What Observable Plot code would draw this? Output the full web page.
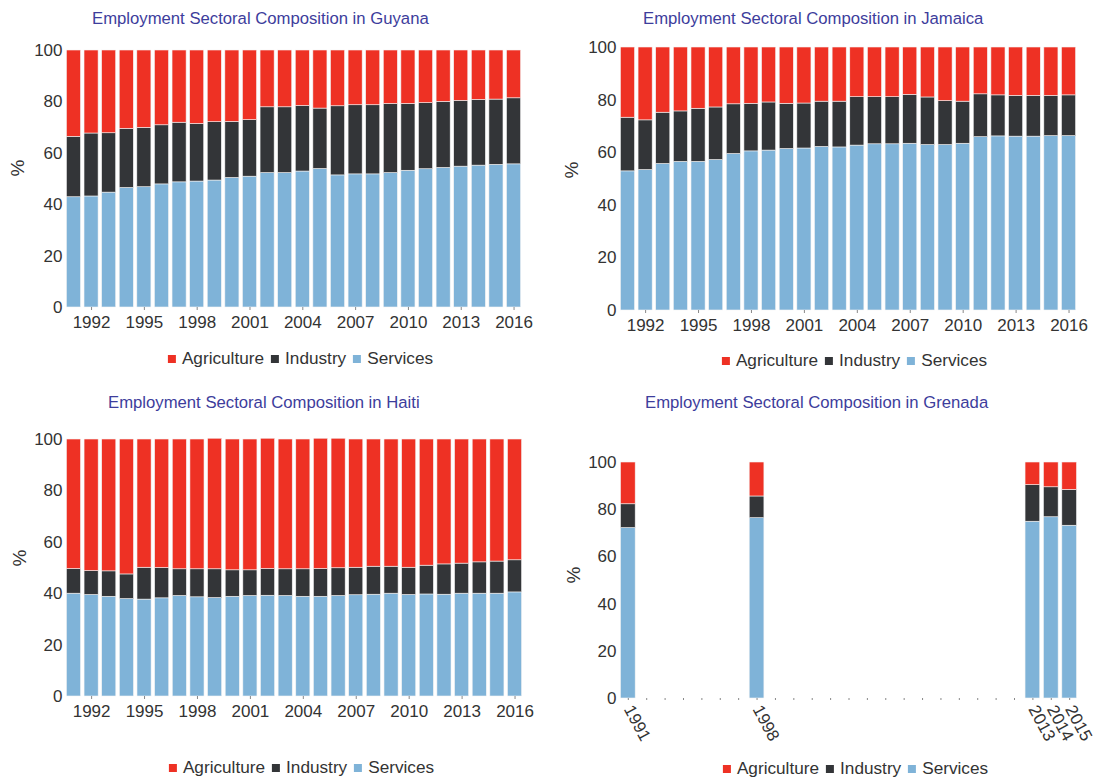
<!DOCTYPE html>
<html>
<head>
<meta charset="utf-8">
<script src="https://cdn.jsdelivr.net/npm/d3@7"></script>
<script src="https://cdn.jsdelivr.net/npm/@observablehq/plot@0.6"></script>
<style>
  html, body { margin: 0; padding: 0; background: #fff; }
  body { width: 1098px; height: 780px; position: relative; overflow: hidden; font-family: "Liberation Sans", Arial, sans-serif; }
  .panel { position: absolute; }
  .title { position: absolute; font-size: 16.7px; color: #3d3d9c; white-space: nowrap; }
  .ylab { position: absolute; font-size: 19px; color: #333; transform: translate(-50%, -50%) rotate(-90deg); }
  .legend { position: absolute; transform: translateX(-50%); display: flex; align-items: center; font-size: 17.2px; color: #333; white-space: nowrap; }
  .legend .sw { display: inline-block; width: 8px; height: 8px; margin-right: 6px; margin-left: 7px; }
  svg { overflow: visible; }
</style>
</head>
<body>
<script>
// ---------- Data ----------
const sectors = ["Agriculture", "Industry", "Services"];
const sectorColors = ["#ee3124", "#333538", "#7fb3d8"];

const years = [1991,1992,1993,1994,1995,1996,1997,1998,1999,2000,2001,2002,2003,2004,2005,2006,2007,2008,2009,2010,2011,2012,2013,2014,2015,2016];
const yearTicks = [1992,1995,1998,2001,2004,2007,2010,2013,2016];

const guyanaServices    = [42.9,43.2,44.7,46.5,46.8,47.9,48.7,49.0,49.4,50.4,50.9,52.3,52.3,52.9,53.9,51.4,51.8,51.8,52.3,53.2,53.8,54.3,54.8,55.2,55.5,55.7];
const guyanaIndustry    = [23.5,24.5,23.1,23.0,23.1,23.0,23.2,22.4,22.7,21.8,22.0,25.6,25.6,25.5,23.5,26.9,26.9,26.9,26.9,26.0,25.7,25.7,25.6,25.6,25.4,25.7];
const guyanaAgriculture = [33.6,32.3,32.2,30.5,30.1,29.1,28.1,28.6,27.9,27.8,27.1,22.1,22.1,21.6,22.6,21.7,21.3,21.3,20.8,20.8,20.5,20.0,19.6,19.2,19.1,18.6];

const jamaicaServices    = [52.9,53.4,55.7,56.5,56.5,57.2,59.5,60.5,60.8,61.4,61.6,62.2,62.0,62.7,63.2,63.2,63.4,62.9,62.9,63.4,65.9,66.2,66.1,66.1,66.3,66.3];
const jamaicaIndustry    = [20.4,18.9,19.5,19.2,20.2,20.0,18.9,18.1,18.3,17.2,17.1,17.2,17.4,18.4,17.9,17.9,18.6,18.1,16.7,16.0,16.3,15.6,15.5,15.5,15.3,15.5];
const jamaicaAgriculture = [26.7,27.7,24.8,24.3,23.3,22.8,21.6,21.4,20.9,21.4,21.3,20.6,20.6,18.9,18.9,18.9,18.0,19.0,20.4,20.6,17.8,18.2,18.4,18.4,18.4,18.2];

const haitiServices    = [40.0,39.5,38.8,37.9,37.7,38.2,39.1,38.6,38.3,38.8,39.1,39.2,39.1,38.8,38.8,39.1,39.4,39.6,40.0,39.5,39.7,39.6,40.0,40.0,40.0,40.5];
const haitiIndustry    = [9.6,9.3,9.9,9.6,12.4,11.8,10.4,10.9,11.2,10.3,10.0,10.4,10.4,10.7,10.8,10.8,10.7,10.9,10.5,10.6,11.2,11.8,11.7,12.2,12.5,12.5];
const haitiAgriculture = [50.4,51.2,51.3,52.5,49.9,50.0,50.5,50.5,50.8,50.9,50.9,50.7,50.5,50.5,50.7,50.4,49.9,49.5,49.5,49.9,49.1,48.6,48.3,47.8,47.5,47.0];

const grenadaAxisYears   = [1991,1992,1993,1994,1995,1996,1997,1998,1999,2000,2001,2002,2003,2004,2005,2006,2007,2008,2009,2010,2011,2012,2013,2014,2015];
const grenadaYears       = [1991,1998,2013,2014,2015];
const grenadaServices    = [72.2,76.4,74.9,76.8,73.2];
const grenadaIndustry    = [10.1,9.2,15.5,12.7,15.2];
const grenadaAgriculture = [17.7,14.4,9.6,10.5,11.6];

const yTicks = [0,20,40,60,80,100];

// ---------- helpers ----------
function toLong(yrs, ser, ind, agr) {
  const out = [];
  yrs.forEach((y, i) => {
    out.push({year: y, sector: "Services", value: ser[i]});
    out.push({year: y, sector: "Industry", value: ind[i]});
    out.push({year: y, sector: "Agriculture", value: agr[i]});
  });
  return out;
}

function addText(cls, text, left, top) {
  const d = document.createElement("div");
  d.className = cls;
  d.textContent = text;
  d.style.left = left + "px";
  d.style.top = top + "px";
  document.body.appendChild(d);
  return d;
}

function addLegend(cx, top) {
  const d = document.createElement("div");
  d.className = "legend";
  d.style.left = cx + "px";
  d.style.top = top + "px";
  sectors.forEach((s, i) => {
    const sw = document.createElement("span");
    sw.className = "sw";
    sw.style.background = sectorColors[i];
    d.appendChild(sw);
    const t = document.createElement("span");
    t.textContent = s;
    d.appendChild(t);
  });
  document.body.appendChild(d);
}

function panel(opts) {
  const {data, domain, ticks, tickFormat, left, top, width, height, mt, mb, ml, mr, rotate} = opts;
  const chart = Plot.plot({
    width, height,
    marginTop: mt, marginBottom: mb, marginLeft: ml, marginRight: mr,
    style: {fontFamily: "'Liberation Sans', Arial, sans-serif", fontSize: "17px", color: "#333", background: "transparent"},
    x: {type: "band", domain, paddingInner: 0.2, paddingOuter: 0.08, round: false, label: null},
    y: {domain: [0, 100], label: null},
    color: {domain: sectors, range: sectorColors},
    marks: [
      Plot.barY(data, {x: "year", y: "value", fill: "sector", order: ["Services", "Industry", "Agriculture"], stroke: "#f4f4f4", strokeWidth: 0.6}),
      Plot.axisY({ticks: yTicks, tickSize: 0, tickPadding: 3, label: null, fontSize: 17}),
      rotate
        ? Plot.axisX({ticks, tickFormat, tickSize: 2, tickPadding: 6, tickRotate: 62, label: null, stroke: "#888", fontSize: 17, textAnchor: "start"})
        : Plot.axisX({ticks, tickFormat, tickSize: 3, tickPadding: 5, label: null, stroke: "#888", fontSize: 17})
    ]
  });
  chart.classList.add("panel");
  chart.style.left = left + "px";
  chart.style.top = top + "px";
  document.body.appendChild(chart);
}

// ---------- panels ----------
panel({data: toLong(years, guyanaServices, guyanaIndustry, guyanaAgriculture), domain: years, ticks: yearTicks,
  tickFormat: d => String(d), left: 0, top: 0, width: 549, height: 345, mt: 50, mb: 38, ml: 65, mr: 27});
addText("title", "Employment Sectoral Composition in Guyana", 92, 9);
addText("ylab", "%", 18, 168);
addLegend(297, 348);

panel({data: toLong(years, jamaicaServices, jamaicaIndustry, jamaicaAgriculture), domain: years, ticks: yearTicks,
  tickFormat: d => String(d), left: 549, top: 0, width: 549, height: 345, mt: 47, mb: 35, ml: 70, mr: 21});
addText("title", "Employment Sectoral Composition in Jamaica", 643, 9);
addText("ylab", "%", 572, 170);
addLegend(851, 350);

panel({data: toLong(years, haitiServices, haitiIndustry, haitiAgriculture), domain: years, ticks: yearTicks,
  tickFormat: d => String(d), left: 0, top: 390, width: 549, height: 345, mt: 49, mb: 39, ml: 65, mr: 26});
addText("title", "Employment Sectoral Composition in Haiti", 108, 393);
addText("ylab", "%", 20, 558);
addLegend(298, 757);

panel({data: toLong(grenadaYears, grenadaServices, grenadaIndustry, grenadaAgriculture), domain: grenadaAxisYears, ticks: grenadaAxisYears,
  tickFormat: d => grenadaYears.includes(d) ? String(d) : "", left: 549, top: 390, width: 549, height: 355, mt: 72, mb: 47, ml: 70, mr: 20, rotate: true});
addText("title", "Employment Sectoral Composition in Grenada", 645, 393);
addText("ylab", "%", 574, 575);
addLegend(852, 758);
</script>
</body>
</html>
